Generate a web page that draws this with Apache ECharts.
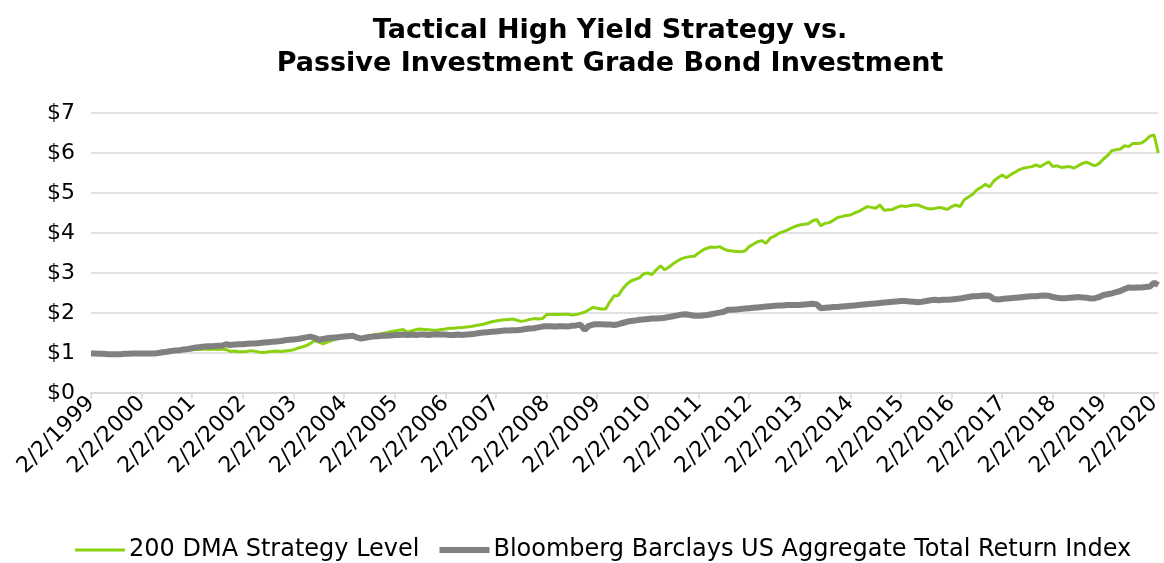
<!DOCTYPE html>
<html>
<head>
<meta charset="utf-8">
<title>Tactical High Yield Strategy vs. Passive Investment Grade Bond Investment</title>
<script src="https://cdn.jsdelivr.net/npm/echarts@6/dist/echarts.min.js"></script>
<style>
  html, body { margin: 0; padding: 0; background: #fff; }
  #chart { width: 1164px; height: 563px; }
</style>
</head>
<body>
<div id="chart"></div>
<script>
/** 图表标题（两行） */
const TITLE = 'Tactical High Yield Strategy vs.\nPassive Investment Grade Bond Investment'

/** 系列名称 */
const STRATEGY_NAME = '200 DMA Strategy Level'
const AGG_NAME = 'Bloomberg Barclays US Aggregate Total Return Index'

/** 起始月份：2/2/1999，共 254 个月度点（到 2020 年 3 月） */
const START_YEAR = 1999
const START_MONTH = 2
const MONTH_COUNT = 254

/** 200 DMA 策略净值（按月读取，每行对应一年 2 月起） */
const strategyLevel = [
  1.00, 0.99, 0.99, 0.98, 0.98, 0.97, 0.98, 0.98, 0.98, 0.99, 0.99, 0.99,
  1.00, 0.99, 1.00, 1.00, 1.01, 1.02, 1.02, 1.03, 1.04, 1.05, 1.06, 1.07,
  1.08, 1.09, 1.09, 1.10, 1.09, 1.10, 1.09, 1.10, 1.09, 1.04, 1.05, 1.03,
  1.03, 1.04, 1.06, 1.04, 1.02, 1.01, 1.03, 1.04, 1.05, 1.04, 1.05, 1.06,
  1.08, 1.12, 1.15, 1.18, 1.24, 1.31, 1.27, 1.23, 1.27, 1.31, 1.34, 1.37,
  1.39, 1.40, 1.41, 1.38, 1.37, 1.41, 1.43, 1.45, 1.47, 1.49, 1.51, 1.53,
  1.55, 1.57, 1.59, 1.52, 1.55, 1.58, 1.60, 1.59, 1.58, 1.57, 1.57, 1.59,
  1.60, 1.62, 1.62, 1.63, 1.64, 1.65, 1.66, 1.68, 1.70, 1.72, 1.75, 1.78,
  1.80, 1.82, 1.83, 1.84, 1.85, 1.82, 1.79, 1.81, 1.84, 1.86, 1.85, 1.86,
  1.96, 1.96, 1.97, 1.96, 1.97, 1.97, 1.95, 1.96, 1.99, 2.02, 2.08, 2.14,
  2.12, 2.10, 2.10, 2.28, 2.43, 2.44, 2.60, 2.72, 2.80, 2.84, 2.88, 2.98,
  3.00, 2.96, 3.08, 3.18, 3.08, 3.15, 3.23, 3.30, 3.36, 3.39, 3.41, 3.42,
  3.50, 3.57, 3.62, 3.65, 3.64, 3.66, 3.60, 3.56, 3.55, 3.54, 3.53, 3.55,
  3.66, 3.72, 3.78, 3.81, 3.74, 3.87, 3.92, 3.99, 4.03, 4.07, 4.12, 4.17,
  4.20, 4.22, 4.23, 4.30, 4.34, 4.18, 4.24, 4.26, 4.32, 4.39, 4.41, 4.44,
  4.45, 4.50, 4.54, 4.60, 4.66, 4.64, 4.62, 4.70, 4.57, 4.58, 4.59, 4.64,
  4.68, 4.66, 4.68, 4.70, 4.70, 4.66, 4.62, 4.60, 4.61, 4.64, 4.62, 4.59,
  4.66, 4.70, 4.66, 4.83, 4.90, 4.97, 5.08, 5.14, 5.22, 5.15, 5.30, 5.38,
  5.45, 5.38, 5.46, 5.52, 5.58, 5.62, 5.64, 5.66, 5.70, 5.66, 5.72, 5.78,
  5.66, 5.68, 5.64, 5.65, 5.66, 5.62, 5.68, 5.74, 5.77, 5.72, 5.68, 5.74,
  5.85, 5.94, 6.06, 6.08, 6.10, 6.18, 6.16, 6.24, 6.24, 6.25, 6.32, 6.42,
  6.45, 6.00
]

/** 综合债券指数净值（按月读取） */
const aggregateIndex = [
  0.99, 0.99, 0.98, 0.98, 0.97, 0.97, 0.97, 0.97, 0.98, 0.98, 0.99, 0.99,
  0.99, 0.99, 0.99, 0.99, 1.00, 1.02, 1.03, 1.05, 1.06, 1.07, 1.09, 1.10,
  1.12, 1.14, 1.15, 1.16, 1.17, 1.17, 1.18, 1.18, 1.22, 1.20, 1.21, 1.22,
  1.22, 1.23, 1.24, 1.24, 1.25, 1.26, 1.27, 1.28, 1.29, 1.30, 1.32, 1.33,
  1.34, 1.35, 1.37, 1.39, 1.41, 1.38, 1.33, 1.35, 1.37, 1.38, 1.39, 1.40,
  1.41, 1.42, 1.43, 1.39, 1.36, 1.38, 1.40, 1.41, 1.42, 1.43, 1.43, 1.44,
  1.45, 1.45, 1.46, 1.45, 1.46, 1.45, 1.46, 1.46, 1.45, 1.46, 1.47, 1.46,
  1.46, 1.45, 1.45, 1.46, 1.45, 1.46, 1.47, 1.48, 1.50, 1.51, 1.52, 1.53,
  1.54, 1.55, 1.56, 1.56, 1.57, 1.57, 1.58, 1.60, 1.61, 1.62, 1.64, 1.66,
  1.67, 1.67, 1.66, 1.67, 1.67, 1.66, 1.68, 1.69, 1.71, 1.58, 1.68, 1.71,
  1.72, 1.72, 1.71, 1.71, 1.70, 1.72, 1.75, 1.78, 1.80, 1.81, 1.83, 1.84,
  1.85, 1.86, 1.86, 1.87, 1.88, 1.90, 1.92, 1.94, 1.96, 1.97, 1.95, 1.93,
  1.93, 1.94, 1.95, 1.97, 1.99, 2.01, 2.03, 2.08, 2.08, 2.09, 2.10, 2.11,
  2.12, 2.13, 2.14, 2.15, 2.16, 2.17, 2.18, 2.19, 2.19, 2.20, 2.20, 2.20,
  2.20, 2.21, 2.22, 2.23, 2.22, 2.12, 2.13, 2.14, 2.15, 2.15, 2.16, 2.17,
  2.18, 2.19, 2.20, 2.21, 2.22, 2.23, 2.24, 2.25, 2.26, 2.27, 2.28, 2.29,
  2.30, 2.30, 2.29, 2.28, 2.27, 2.28, 2.30, 2.32, 2.33, 2.32, 2.33, 2.33,
  2.34, 2.35, 2.36, 2.38, 2.40, 2.42, 2.42, 2.43, 2.44, 2.43, 2.35, 2.34,
  2.35, 2.36, 2.37, 2.38, 2.39, 2.40, 2.41, 2.42, 2.42, 2.43, 2.44, 2.43,
  2.40, 2.38, 2.37, 2.37, 2.38, 2.39, 2.40, 2.39, 2.38, 2.36, 2.37, 2.40,
  2.45, 2.47, 2.49, 2.52, 2.55, 2.60, 2.64, 2.63, 2.64, 2.64, 2.65, 2.66,
  2.76, 2.70
]

/** 月度类目：M/2/YYYY */
const dates = []
for (let i = 0; i < MONTH_COUNT; i++) {
  const m0 = START_MONTH - 1 + i
  dates.push((m0 % 12 + 1) + '/2/' + (START_YEAR + Math.floor(m0 / 12)))
}

/** Y 轴刻度 */
const Y_MIN = 0
const Y_MAX = 7
const Y_STEP = 1

const FONT = '"DejaVu Sans", sans-serif'
const GREEN = '#8ad20f'
const GREY = '#808080'

const chart = echarts.init(document.getElementById('chart'), null, { renderer: 'canvas' })

// 图例线条粗细不同：用带透明角点的路径撑出同样的包围盒
const thinLine = 'path://M0,0h0.01v0.01h-0.01z M0,2.5h50v3h-50z M0,7.99h0.01v0.01h-0.01z'
const thickLine = 'path://M0,0h0.01v0.01h-0.01z M0,1h50v6h-50z M0,7.99h0.01v0.01h-0.01z'

chart.setOption({
  animation: false,
  backgroundColor: '#fff',
  title: {
    text: TITLE,
    left: 605,
    top: 9,
    textAlign: 'center',
    textStyle: {
      fontFamily: FONT,
      fontWeight: 'bold',
      fontSize: 27,
      lineHeight: 33,
      color: '#000'
    }
  },
  legend: {
    left: 70,
    top: 538,
    padding: [0, 5],
    itemWidth: 52,
    itemHeight: 8,
    itemGap: 20,
    textStyle: { fontFamily: FONT, fontSize: 24, color: '#000', padding: [0, 0, 0, -2] },
    data: [
      { name: STRATEGY_NAME, icon: thinLine },
      { name: AGG_NAME, icon: thickLine }
    ]
  },
  grid: { left: 91, right: 4, top: 113, bottom: 170 },
  xAxis: {
    type: 'category',
    data: dates,
    boundaryGap: false,
    axisLine: { lineStyle: { color: '#d9d9d9', width: 2 } },
    axisTick: { interval: 11, length: 6, lineStyle: { color: '#d9d9d9', width: 1.5 } },
    axisLabel: {
      interval: 11,
      rotate: 45,
      margin: 7,
      fontFamily: FONT,
      fontSize: 22,
      color: '#000'
    },
    splitLine: { show: false }
  },
  yAxis: {
    type: 'value',
    min: Y_MIN,
    max: Y_MAX,
    interval: Y_STEP,
    axisLine: { show: false },
    axisTick: { show: false },
    axisLabel: {
      formatter: v => '$' + v,
      margin: 16,
      fontFamily: FONT,
      fontSize: 22,
      color: '#000'
    },
    splitLine: { lineStyle: { color: '#d9d9d9', width: 1.5 } }
  },
  series: [
    {
      name: STRATEGY_NAME,
      type: 'line',
      data: strategyLevel,
      showSymbol: false,
      symbol: 'none',
      lineStyle: { color: GREEN, width: 3 },
      itemStyle: { color: GREEN }
    },
    {
      name: AGG_NAME,
      type: 'line',
      data: aggregateIndex,
      showSymbol: false,
      symbol: 'none',
      lineStyle: { color: GREY, width: 6 },
      itemStyle: { color: GREY }
    }
  ]
})
</script>
</body>
</html>
